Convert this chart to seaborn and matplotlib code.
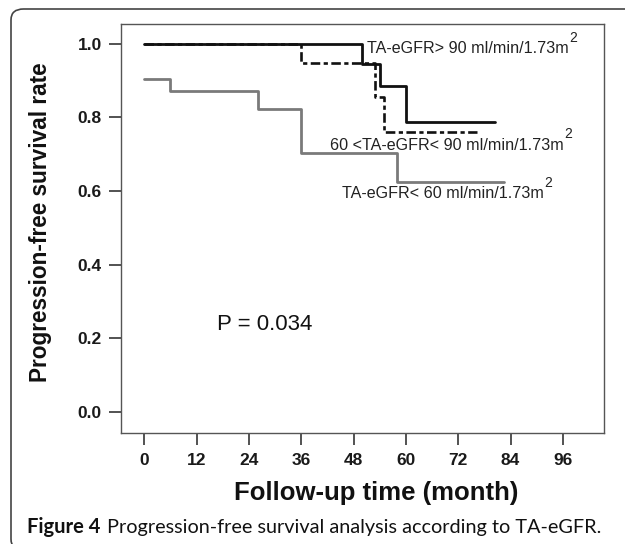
import matplotlib
matplotlib.use("Agg")
import matplotlib.pyplot as plt
import seaborn as sns
import pandas as pd
from matplotlib.patches import FancyBboxPatch

sns.set_theme(style="white")
plt.rcParams['font.family'] = ['Liberation Sans', 'DejaVu Sans']

# ---- data ----
group_labels = ["TA-eGFR> 90 ml/min/1.73m",
                "60 <TA-eGFR< 90 ml/min/1.73m",
                "TA-eGFR< 60 ml/min/1.73m"]
time_gt90 = [0, 50, 54, 60, 80.5]
surv_gt90 = [1.0, 0.944, 0.885, 0.787, 0.787]
time_60_90 = [0, 36, 53, 55, 76.3]
surv_60_90 = [1.0, 0.947, 0.855, 0.760, 0.760]
time_lt60 = [0, 6, 26, 36, 58, 82.5]
surv_lt60 = [0.905, 0.873, 0.822, 0.703, 0.625, 0.625]
x_ticks = [0, 12, 24, 36, 48, 60, 72, 84, 96]
y_ticks = [0.0, 0.2, 0.4, 0.6, 0.8, 1.0]
p_text = "P = 0.034"
x_label = "Follow-up time (month)"
y_label = "Progression-free survival rate"
caption_bold = "Figure 4"
caption_text = "Progression-free survival analysis according to TA-eGFR."

df = pd.concat([
    pd.DataFrame({"time": time_lt60, "surv": surv_lt60, "group": group_labels[2]}),
    pd.DataFrame({"time": time_60_90, "surv": surv_60_90, "group": group_labels[1]}),
    pd.DataFrame({"time": time_gt90, "surv": surv_gt90, "group": group_labels[0]}),
])

W, H = 625, 544
fig = plt.figure(figsize=(W / 100, H / 100), dpi=100)
fig.patch.set_facecolor("white")
ax = fig.add_axes([120.7 / W, 1 - 432.7 / H, (604.3 - 120.7) / W, (432.7 - 24.3) / H])

styles = {
    group_labels[2]: dict(color="#7a7a7a", lw=2.0, ls="-"),
    group_labels[1]: dict(color="#111111", lw=1.9, ls=(0, (3.6, 1.3, 1.6, 1.3))),
    group_labels[0]: dict(color="#111111", lw=2.0, ls="-"),
}
for g in [group_labels[2], group_labels[1], group_labels[0]]:
    sub = df[df["group"] == g]
    st = styles[g]
    sns.lineplot(data=sub, x="time", y="surv", ax=ax, estimator=None, sort=False,
                 drawstyle="steps-post", color=st["color"], linewidth=st["lw"],
                 linestyle=st["ls"], legend=False)

ax.set_xlim(-5.4, 105.5)
ax.set_ylim(-0.056, 1.053)
ax.set_xticks(x_ticks)
ax.set_yticks(y_ticks)
ax.set_xticklabels([str(t) for t in x_ticks])
ax.set_yticklabels([f"{t:.1f}" for t in y_ticks])
ax.tick_params(axis="both", which="major", direction="out", length=8.5, width=1.3,
               color="#444444", labelsize=12.5, labelcolor="#1a1a1a",
               bottom=True, left=True, top=False, right=False)
ax.tick_params(axis="x", pad=6)
ax.tick_params(axis="y", pad=5)
for lab in ax.get_xticklabels() + ax.get_yticklabels():
    lab.set_fontweight("bold")
for s in ax.spines.values():
    s.set_visible(True)
    s.set_color("#555555")
    s.set_linewidth(1.0)

ax.set_xlabel(x_label, fontsize=18.5, fontweight="bold", color="#111111")
ax.set_ylabel(y_label, fontsize=16.3, fontweight="bold", color="#111111")
ax.xaxis.set_label_coords((376 - 120.7) / (604.3 - 120.7), -(493 - 432.7) / (432.7 - 24.3))
ax.xaxis.label.set_va("center")
ax.yaxis.set_label_coords(-(120.7 - 41) / (604.3 - 120.7), (432.7 - 222) / (432.7 - 24.3))
ax.yaxis.label.set_va("center")

# group labels with superscript 2
label_pos = [(51.0, 0.9756), (42.6, 0.713), (45.3, 0.580)]
for txt, (lx, ly) in zip(group_labels, label_pos):
    t = ax.text(lx, ly, txt, fontsize=11.6, color="#222222", ha="left", va="baseline")
    ax.annotate("2", xy=(1.0, 0.75), xycoords=t, xytext=(0.5, 0), textcoords="offset points",
                fontsize=10, color="#222222", ha="left", va="bottom")

ax.text(27.7, 0.239, p_text, fontsize=16, color="#111111", ha="center", va="center")

# caption
fig.text(27 / W, 1 - 527 / H, caption_bold, fontsize=14.5, fontweight="bold",
         family=["Lato", "DejaVu Sans"], color="#111111", ha="left", va="center")
fig.text(107 / W, 1 - 527 / H, caption_text, fontsize=14.3,
         family=["Lato", "DejaVu Sans"], color="#111111", ha="left", va="center")

# rounded frame around the figure panel
frame = FancyBboxPatch((11 / W, -6 / H), 1.2, (544 - 9 + 6) / H,
                       boxstyle="round,pad=0,rounding_size=0.02",
                       transform=fig.transFigure, facecolor="none",
                       edgecolor="#444444", linewidth=1.2, clip_on=False)
fig.patches.append(frame)

fig.savefig("out.png", dpi=100)
